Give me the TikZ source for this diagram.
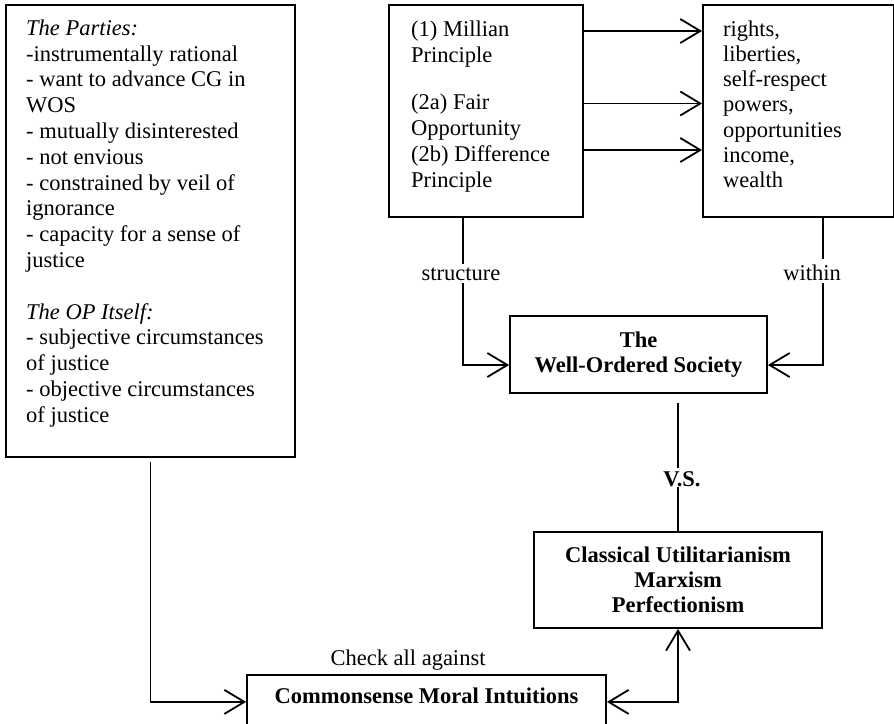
\documentclass[tikz,border=0pt]{standalone}
\usepackage{fontspec}
\setmainfont{Liberation Serif}
\usetikzlibrary{arrows.meta}
% strut that fixes the top of a text block 16pt above its first baseline
\newcommand{\firststrut}{\rule{0pt}{16pt}}
\begin{document}
\begin{tikzpicture}[x=1pt,y=-1pt,
  box/.style={draw, line width=1.8pt, inner sep=0pt},
  body/.style={inner sep=0pt, align=left, anchor=north west,
    font=\fontsize{22.5}{25.8}\selectfont},
  lbl/.style={inner sep=3pt, font=\fontsize{22.5}{25.8}\selectfont},
  bold/.style={inner sep=0pt, align=center,
    font=\fontsize{22.5}{25}\selectfont\bfseries},
  link/.style={line width=1.8pt},
  arr/.style={link, -{Straight Barb[length=20pt,width=24pt,line width=1.8pt]}},
  arrs/.style={link, {Straight Barb[length=20pt,width=24pt,line width=1.8pt]}-{Straight Barb[length=20pt,width=24pt,line width=1.8pt]}}
]
\clip (0,0) rectangle (894,723);

% ---- boxes ----
\node[box, anchor=north west, minimum width=289pt, minimum height=452pt] (parties) at (5,4) {};
\node[box, anchor=north west, minimum width=194pt, minimum height=212pt] (principles) at (388,4) {};
\node[box, anchor=north west, minimum width=191pt, minimum height=212pt] (goods) at (702,4) {};
\node[box, minimum width=257pt, minimum height=77pt] (wos) at (638.5,354.5) {};
\node[box, minimum width=288pt, minimum height=96pt] (classical) at (678,580) {};
\node[box, anchor=north, minimum width=359pt, minimum height=54pt] (moral) at (426.5,674) {};

% ---- box texts ----
\node[body] (partiestext) at (26,19) {\firststrut\textit{The Parties:}\\
-instrumentally rational\\
- want to advance CG in\\
WOS\\
- mutually disinterested\\
- not envious\\
- constrained by veil of\\
ignorance\\
- capacity for a sense of\\
justice\\[25.8pt]
\textit{The OP Itself:}\\
- subjective circumstances\\
of justice\\
- objective circumstances\\
of justice};

\node[body] (principlestext) at (411,20) {\firststrut(1) Millian\\
Principle\\[22pt]
(2a) Fair\\
Opportunity\\
(2b) Difference\\
Principle};

\node[body, font=\fontsize{22.5}{25.2}\selectfont] (goodstext) at (723,20) {\firststrut rights,\\
liberties,\\
self-respect\\
powers,\\
opportunities\\
income,\\
wealth};

\node[bold] (wostext) at (wos.center) {The\\Well-Ordered Society};
\node[bold] (classicaltext) at (classical.center) {Classical Utilitarianism\\Marxism\\Perfectionism};
\node[bold, anchor=base] (moraltext) at (426.5,703) {Commonsense Moral Intuitions};

% ---- labels ----
\node[lbl, anchor=base] (structure) at (461,280) {structure};
\node[lbl, anchor=base] (within) at (812,280) {within};
\node[lbl, anchor=base, font=\fontsize{22.5}{25}\selectfont\bfseries] (vs) at (682,486) {V.S.};
\node[lbl, anchor=base, inner sep=0pt] (check) at (408,665) {Check all against};

% ---- connectors ----
\draw[arr] ([yshift=-27pt]principles.north east) -- ([yshift=-27pt]goods.north west);
\draw[arr] ([yshift=-99.5pt]principles.north east) -- ([yshift=-99.5pt]goods.north west);
\draw[arr] ([yshift=-146pt]principles.north east) -- ([yshift=-146pt]goods.north west);

\draw[link] ([xshift=-23pt]principles.south) -- ([xshift=-23pt]principles.south |- structure.north);
\draw[arr] ([xshift=-23pt]principles.south |- structure.south) |- ([yshift=-10.5pt]wos.west);

\draw[link] ([xshift=24.5pt]goods.south) -- ([xshift=24.5pt,yshift=2pt]goods.south |- within.north);
\draw[arr] ([xshift=24.5pt]goods.south |- within.south) |- ([yshift=-10.5pt]wos.east);

\draw[link] ([yshift=-9pt]wos.south -| classical.north) -- (vs.north -| classical.north);
\draw[link] ([yshift=3pt]vs.south -| classical.north) -- (classical.north);

\draw[arr] ([yshift=-4pt]parties.south) |- (moral.west);
\draw[arrs] (moral.east) -| (classical.south);
\end{tikzpicture}
\end{document}
